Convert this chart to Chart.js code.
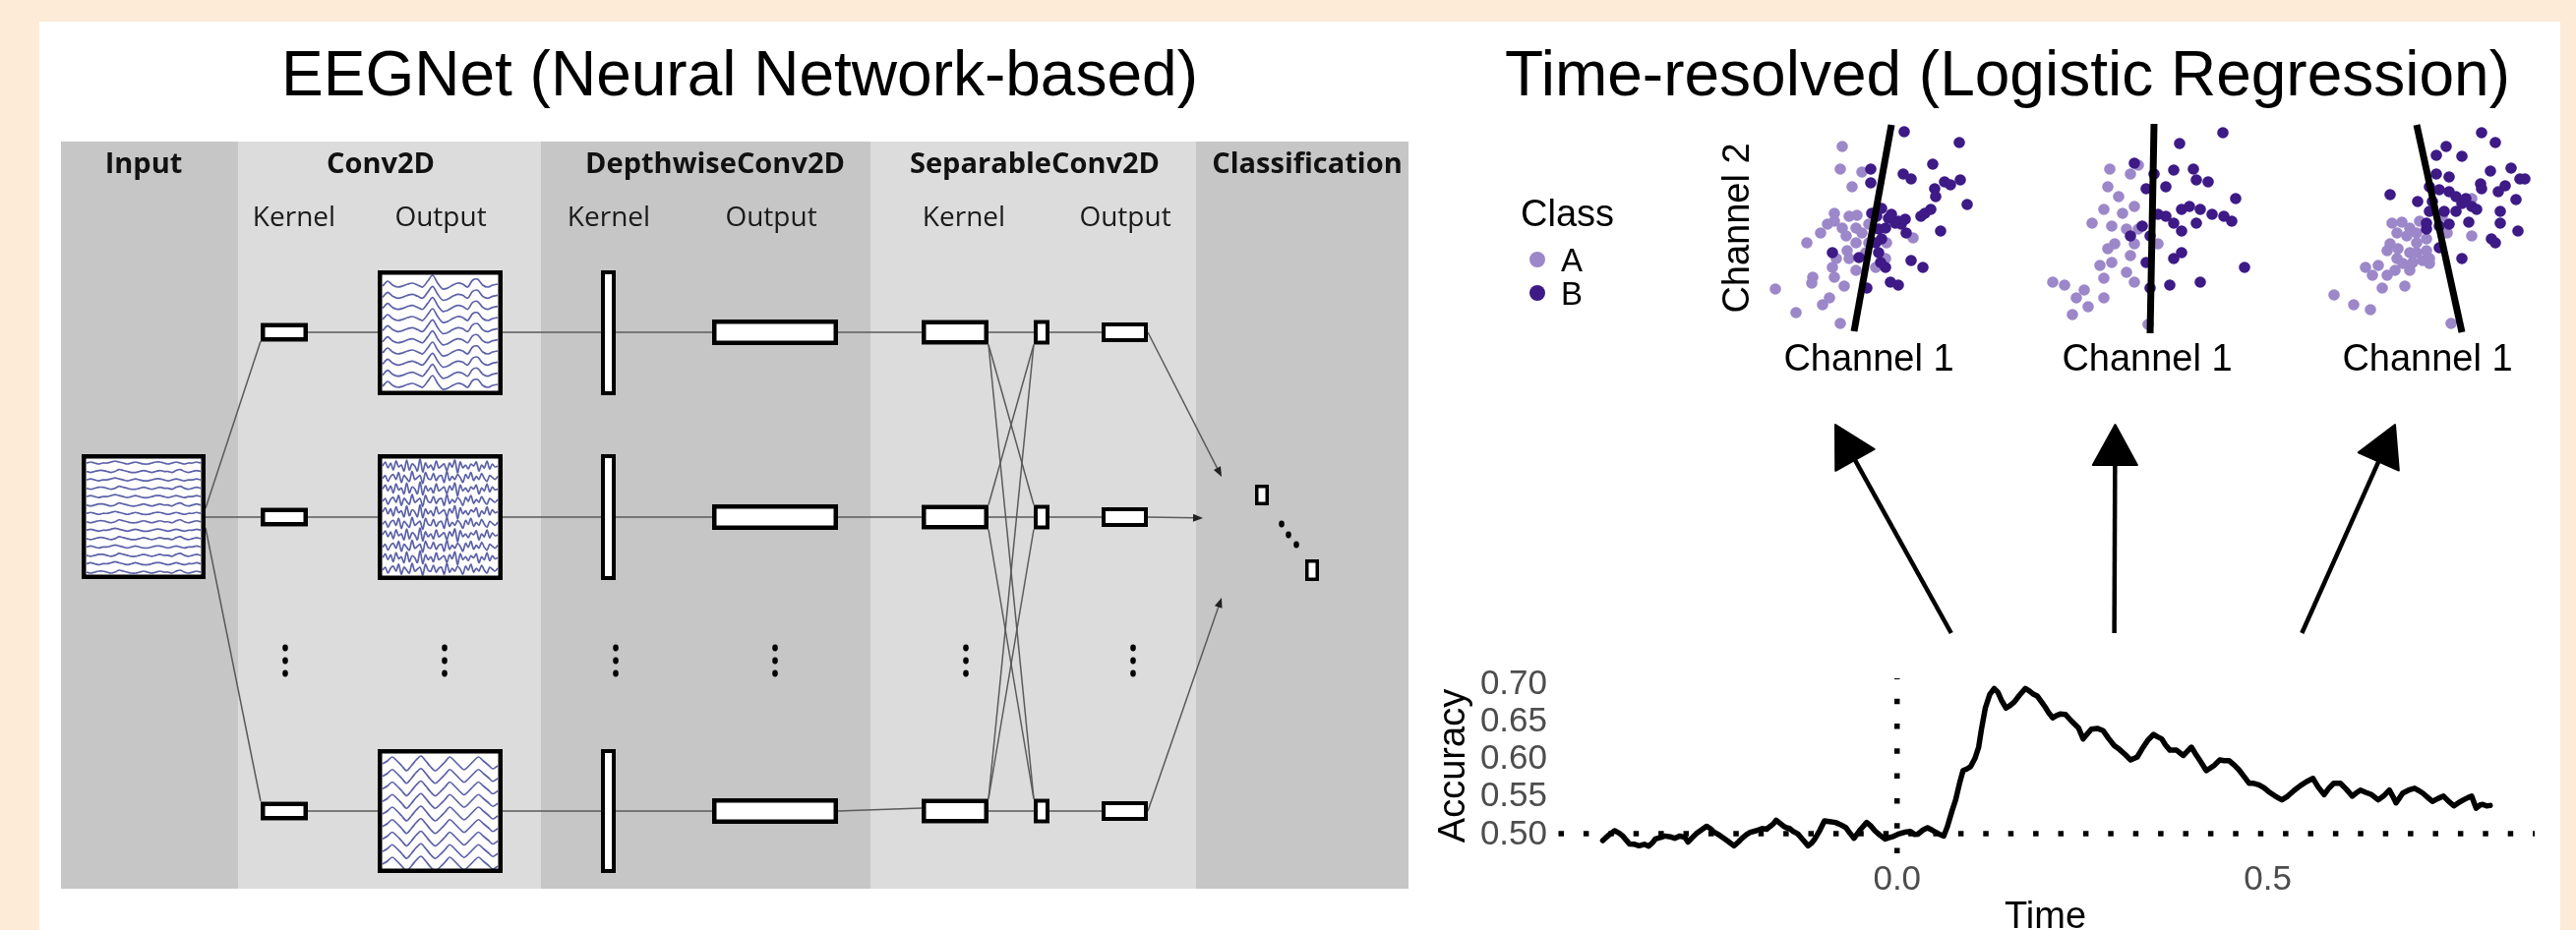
<!DOCTYPE html>
<html>
<head>
<meta charset="utf-8">
<script src="https://cdn.jsdelivr.net/npm/chart.js@4.4.1/dist/chart.umd.min.js"></script>
<style>
  html, body { margin: 0; padding: 0; }
  body { width: 2619px; height: 946px; background: #fdebd8; position: relative; overflow: hidden;
         font-family: "Liberation Sans", Arial, sans-serif; }
  #sheet { position: absolute; left: 40px; top: 22px; width: 2563px; height: 924px; background: #fff; }
  .title { position: absolute; font-size: 64px; line-height: 64px; white-space: nowrap; color: #000;
           transform: translateX(-50%); }
  canvas { position: absolute; }
</style>
</head>
<body>
<div id="sheet"></div>
<div class="title" style="left:752px; top:43px">EEGNet (Neural Network-based)</div>
<div class="title" style="left:2041px; top:43px">Time-resolved (Logistic Regression)</div>

<canvas id="net" width="1370" height="760" style="left:62px; top:144px"></canvas>
<canvas id="sc1" width="480" height="280" style="left:1530px; top:115px"></canvas>
<canvas id="sc2" width="220" height="280" style="left:2073px; top:115px"></canvas>
<canvas id="sc3" width="220" height="280" style="left:2358px; top:115px"></canvas>
<canvas id="acc" width="1163" height="546" style="left:1440px; top:400px"></canvas>

<script>
// ---------- time-resolved decoding accuracy ----------
const timeS = [
  -0.397,-0.388,-0.381,-0.375,-0.370,-0.361,-0.354,-0.348,-0.341,-0.335,-0.330,-0.326,-0.319,-0.313,
  -0.306,-0.300,-0.293,-0.286,-0.282,-0.276,-0.271,-0.264,-0.257,-0.252,-0.248,-0.241,-0.235,-0.228,
  -0.220,-0.214,-0.209,-0.203,-0.198,-0.190,-0.182,-0.176,-0.171,-0.167,-0.163,-0.158,-0.153,-0.149,
  -0.145,-0.140,-0.134,-0.127,-0.120,-0.115,-0.111,-0.104,-0.098,-0.091,-0.083,-0.076,-0.069,-0.063,
  -0.058,-0.050,-0.041,-0.035,-0.030,-0.023,-0.016,-0.010,-0.005,0.003,0.010,0.018,0.024,0.028,
  0.035,0.041,0.047,0.052,0.058,0.063,0.068,0.074,0.079,0.084,0.089,0.094,0.099,0.105,0.110,0.114,
  0.119,0.125,0.131,0.136,0.141,0.147,0.152,0.158,0.165,0.173,0.178,0.183,0.189,0.195,0.200,0.205,
  0.210,0.215,0.220,0.227,0.235,0.2445,0.251,0.256,0.262,0.270,0.278,0.285,0.293,0.300,0.308,0.315,
  0.324,0.330,0.338,0.346,0.351,0.357,0.362,0.368,0.377,0.386,0.391,0.397,0.402,0.408,0.417,0.422,
  0.428,0.435,0.441,0.448,0.455,0.461,0.468,0.475,0.481,0.488,0.495,0.501,0.510,0.519,0.527,0.536,
  0.544,0.552,0.561,0.568,0.576,0.582,0.589,0.598,0.606,0.614,0.619,0.625,0.632,0.640,0.649,0.656,
  0.664,0.669,0.673,0.678,0.682,0.690,0.698,0.704,0.709,0.716,0.722,0.730,0.737,0.744,0.751,0.757,
  0.764,0.770,0.775,0.778,0.781,0.786,0.790,0.795,0.800
];
const accuracy = [
  0.491,0.499,0.504,0.501,0.497,0.4865,0.486,0.484,0.486,0.4834,0.488,0.493,0.495,0.497,
  0.496,0.494,0.497,0.495,0.489,0.495,0.500,0.505,0.510,0.507,0.503,0.499,0.495,0.490,
  0.484,0.489,0.494,0.499,0.502,0.504,0.507,0.506,0.510,0.513,0.518,0.514,0.510,0.508,
  0.507,0.503,0.500,0.492,0.484,0.488,0.493,0.505,0.517,0.516,0.515,0.512,0.508,0.500,
  0.494,0.505,0.515,0.510,0.504,0.498,0.493,0.495,0.4965,0.500,0.502,0.503,0.499,0.4995,
  0.505,0.508,0.505,0.502,0.499,0.497,0.510,0.530,0.545,0.566,0.584,0.586,0.589,0.600,0.615,0.640,
  0.667,0.685,0.693,0.688,0.677,0.667,0.670,0.675,0.684,0.693,0.690,0.686,0.683,0.675,0.668,0.660,
  0.654,0.657,0.659,0.6586,0.650,0.641,0.626,0.632,0.639,0.640,0.637,0.627,0.617,0.612,0.605,0.598,
  0.602,0.612,0.624,0.632,0.629,0.626,0.618,0.611,0.611,0.604,0.609,0.615,0.607,0.598,0.584,0.587,
  0.591,0.598,0.597,0.597,0.591,0.585,0.576,0.567,0.567,0.565,0.561,0.556,0.550,0.545,0.550,0.558,
  0.564,0.569,0.5735,0.562,0.552,0.560,0.567,0.567,0.559,0.550,0.554,0.558,0.555,0.552,0.545,0.550,
  0.558,0.549,0.541,0.548,0.554,0.558,0.5605,0.557,0.554,0.548,0.543,0.547,0.550,0.543,0.537,0.541,
  0.545,0.548,0.550,0.542,0.534,0.538,0.539,0.537,0.5375
];
const timeRange = [-0.46, 0.86];
const accRange = [0.474, 0.7065];
const yTickValues = [0.50, 0.55, 0.60, 0.65, 0.70];
const xTickValues = [0.0, 0.5];
const chanceLevel = 0.5;
const stimulusOnset = 0.0;
const snapshotTimes = [0.073, 0.293, 0.546];

// ---------- single-time-point classifier snapshots (Channel 1, Channel 2) ----------
const classNames = ['A', 'B'];
const classColors = ['#9c87c9', '#3d1a86'];
const snap1A = [[73,191],[71,168],[93,165],[83,150],[65,123],[65,115],[80,120],[88,121],[51,103],[37,93],
  [77,100],[93,103],[87,93],[78,85],[63,68],[43,58],[42,52],[65,58],[75,49],[5,46],[26,22],[53,30],[60,37],
  [71,11],[100,93],[118,93],[145,98],[107,68],[87,65],[67,77],[80,77],[97,83],[73,108],[100,112],[58,112],
  [117,77],[87,108]];
const snap1B = [[136,206],[192,195],[165,173],[135,163],[143,158],[102,168],[102,154],[167,148],[177,155],
  [193,157],[168,140],[200,132],[163,127],[153,120],[157,123],[113,128],[103,123],[120,118],[130,115],
  [133,112],[138,103],[117,108],[173,105],[113,97],[107,93],[63,83],[90,78],[112,73],[117,68],[143,75],
  [155,68],[122,53],[130,50],[98,47],[110,107],[127,113],[123,122],[137,117],[108,120],[110,83],[183,152]];
const snap2A = [[62,168],[60,150],[91,172],[83,163],[87,130],[75,123],[44,113],[64,110],[79,107],[67,92],
  [60,87],[87,92],[83,80],[64,73],[52,70],[79,63],[56,57],[87,53],[4,53],[16,50],[36,45],[28,37],[56,37],
  [40,28],[24,20],[101,10],[111,92],[71,140],[56,127],[91,107]];
const snap2B = [[177,205],[133,194],[87,174],[107,163],[127,167],[147,168],[150,157],[162,155],[99,148],
  [119,150],[190,138],[143,130],[154,127],[111,122],[127,113],[150,113],[95,110],[166,122],[186,115],
  [83,100],[103,100],[135,105],[99,73],[127,77],[135,83],[199,68],[154,53],[123,50],[103,47],[178,120],
  [135,127],[119,120]];
const snap3A = [[64,113],[74,114],[82,108],[92,115],[69,103],[79,100],[89,103],[99,97],[59,85],[70,87],
  [82,83],[89,83],[99,85],[102,77],[69,77],[75,72],[85,73],[95,75],[102,72],[50,70],[37,68],[44,60],
  [59,60],[67,65],[82,65],[54,47],[77,49],[5,40],[25,30],[42,25],[124,11],[145,100],[145,138],[120,103],
  [89,93],[62,92],[115,120]];
const snap3B = [[155,205],[169,195],[119,191],[109,182],[135,181],[185,169],[164,166],[109,163],[122,160],
  [194,158],[199,158],[154,153],[155,148],[179,151],[172,145],[62,142],[90,135],[102,150],[112,147],
  [122,145],[129,140],[139,138],[145,130],[150,127],[102,125],[117,125],[129,125],[190,137],[174,125],
  [142,114],[174,113],[192,105],[99,113],[112,110],[122,112],[165,97],[169,93],[112,88],[135,77],
  [99,107],[105,135],[135,133]];
const boundary1 = [[123,213],[85,3]];
const boundary2 = [[107,214],[103,1]];
const boundary3 = [[89,213],[135,2]];

// ---------- EEGNet schematic ----------
const layerNames = ['Input', 'Conv2D', 'DepthwiseConv2D', 'SeparableConv2D', 'Classification'];
const subLabels = ['Kernel', 'Output'];
// small EEG traces shown inside the feature-map boxes (pixel offsets per sample)
const inputWaveA = [0,-1,0,1,0,0,-1,-2,-1,0,1,0,-1,0,1,1,0,-1,-1,0,1,0,-1,0,1,0,0,-1,0];
const inputWaveB = [0,1,0,-1,-1,0,1,0,-2,-1,0,1,1,0,-1,0,1,0,-1,0,0,1,-1,-2,0,1,0,-1,0];
const convWave1 = [2,-3,1,3,2,0,-1,1,3,-3,-9,-1,5,4,1,-1,0,3,-4,-5,1,3,1,0];
const convWave2A = [0,-4,2,-3,4,-5,1,-1,5,-6,4,-2,0,5,-7,6,-3,2,-1,4,-5,2,0,-2,5,-3,1,-6,7,-4,2,-1,3,-2,0,-4,5,-1,2,-5,3,-2,1,0];
const convWave2B = [1,-2,4,-1,-3,2,-5,5,-2,1,4,-6,2,0,-2,6,-5,1,2,-4,3,-1,-2,5,-6,3,-1,2,-3,0,5,-3,1,-5,3,-1,2,-4,1,4,-2,0,2,-1];
const convWave3 = [0,-3,-7,-3,2,7,2,-4,-8,-3,3,7,3,-2,-7,-3,2,6,2,-3,-7,-3,1,5,2];

// ---------------- schematic geometry ----------------
const FONT = '"Liberation Sans", Arial, sans-serif';
const bandTop = 144, bandBottom = 904;
const bands = [[62,242,'#c6c6c6'],[242,550,'#dcdcdc'],[550,885,'#c6c6c6'],[885,1216,'#dcdcdc'],[1216,1432,'#c6c6c6']];
const headerX = [146, 387, 727, 1052, 1329];
const subX = [[299,'Kernel'],[448,'Output'],[619,'Kernel'],[784,'Output'],[980,'Kernel'],[1144,'Output']];
const rowY = [338, 526, 825];
const bigBox = [[275,402],[462,590],[762,888]];
const inputBox = [83, 209, 462, 589];

function boxesFor(r) {
  const yc = rowY[r];
  return {
    convK: [265, 313, yc - 9.5, yc + 9.5],
    convO: [384, 511, bigBox[r][0], bigBox[r][1]],
    dwK:   [611, 626, bigBox[r][0], bigBox[r][1]],
    dwO:   [724, 852, yc - 13, yc + 13],
    sepK:  [937, 1005, yc - 12.5, yc + 12.5],
    sepS:  [1051, 1067, yc - 12.5, yc + 12.5],
    sepO:  [1120, 1167, yc - 10, yc + 10]
  };
}
const rows = [0, 1, 2].map(boxesFor);
const clsBoxes = [[1276,1290,493,514],[1327,1341,569,591]];
const clsTips = [[1242,485],[1223,527],[1242,608]];

function traceSets(waves, x0, x1, yTop, yBot, n) {
  const sets = [];
  for (let i = 0; i < n; i++) {
    const base = yTop + (yBot - yTop) * i / (n - 1);
    const w = waves[i % waves.length];
    sets.push({
      data: w.map((v, k) => ({ x: x0 + (x1 - x0) * k / (w.length - 1), y: base + v })),
      showLine: true, borderColor: '#5c61a8', borderWidth: 1.7, pointRadius: 0, tension: 0.3
    });
  }
  return sets;
}
const traceData = [].concat(
  traceSets([inputWaveA, inputWaveB], 88, 204, 471, 582, 14),
  traceSets([convWave1], 389, 506, 289, 391, 10),
  traceSets([convWave2A, convWave2B], 389, 506, 474, 579, 10),
  traceSets([convWave3], 389, 506, 777, 879, 9)
);

const netPlugin = {
  id: 'netSchematic',
  beforeDatasetsDraw(chart) {
    const { ctx, scales: { x, y } } = chart;
    const X = v => x.getPixelForValue(v), Y = v => y.getPixelForValue(v);
    ctx.save();
    bands.forEach(b => { ctx.fillStyle = b[2]; ctx.fillRect(X(b[0]), Y(bandTop), X(b[1]) - X(b[0]), Y(bandBottom) - Y(bandTop)); });

    ctx.strokeStyle = '#5a5a5a'; ctx.lineWidth = 1.5;
    const seg = (a, b, c, d) => { ctx.beginPath(); ctx.moveTo(X(a), Y(b)); ctx.lineTo(X(c), Y(d)); ctx.stroke(); };
    // input -> conv kernels
    seg(209, 517, 265, 347); seg(209, 526, 265, 526); seg(209, 537, 265, 815);
    rows.forEach((b, r) => {
      const yc = rowY[r];
      seg(313, yc, 384, yc);
      seg(511, yc, 724, yc);
      seg(852, yc, 937, r === 2 ? 822 : yc);
      seg(1067, yc, 1120, yc);
    });
    // separable: every depthwise map feeds every pointwise unit
    rows.forEach((bi, i) => {
      rows.forEach((bj, j) => {
        const ys = j > i ? bi.sepK[3] : j < i ? bi.sepK[2] : rowY[i];
        const ye = j > i ? bj.sepS[2] : j < i ? bj.sepS[3] : rowY[j];
        seg(1005, ys, 1051, ye);
      });
    });
    // outputs -> classification
    rows.forEach((b, r) => {
      const [tx, ty] = clsTips[r];
      const sx = 1167, sy = rowY[r];
      const ang = Math.atan2(ty - sy, tx - sx);
      seg(sx, sy, tx - 8 * Math.cos(ang), ty - 8 * Math.sin(ang));
      ctx.fillStyle = '#222';
      ctx.beginPath();
      ctx.moveTo(X(tx), Y(ty));
      ctx.lineTo(X(tx - 10 * Math.cos(ang) + 4 * Math.sin(ang)), Y(ty - 10 * Math.sin(ang) - 4 * Math.cos(ang)));
      ctx.lineTo(X(tx - 10 * Math.cos(ang) - 4 * Math.sin(ang)), Y(ty - 10 * Math.sin(ang) + 4 * Math.cos(ang)));
      ctx.closePath(); ctx.fill();
    });

    // white box interiors
    ctx.fillStyle = '#fff';
    const fill = bx => ctx.fillRect(X(bx[0]), Y(bx[2]), X(bx[1]) - X(bx[0]), Y(bx[3]) - Y(bx[2]));
    fill(inputBox);
    rows.forEach(b => Object.values(b).forEach(fill));
    clsBoxes.forEach(fill);
    ctx.restore();
  },
  afterDatasetsDraw(chart) {
    const { ctx, scales: { x, y } } = chart;
    const X = v => x.getPixelForValue(v), Y = v => y.getPixelForValue(v);
    ctx.save();
    ctx.strokeStyle = '#000';
    const frame = (bx, lw) => {
      ctx.lineWidth = lw;
      ctx.strokeRect(X(bx[0]) + lw / 2, Y(bx[2]) + lw / 2, X(bx[1]) - X(bx[0]) - lw, Y(bx[3]) - Y(bx[2]) - lw);
    };
    frame(inputBox, 4.5);
    rows.forEach(b => {
      frame(b.convK, 4.5); frame(b.convO, 4.5); frame(b.dwK, 4);
      frame(b.dwO, 4.5); frame(b.sepK, 4.5); frame(b.sepS, 4); frame(b.sepO, 4);
    });
    clsBoxes.forEach(bx => frame(bx, 3.5));

    // ellipsis dots between rows
    ctx.fillStyle = '#000';
    const dot = (cx, cy) => { ctx.beginPath(); ctx.ellipse(X(cx), Y(cy), 2.8, 3.4, 0, 0, Math.PI * 2); ctx.fill(); };
    [290, 452, 626, 788, 982, 1152].forEach(cx => [659, 672, 685].forEach(cy => dot(cx, cy)));
    [[1303, 533], [1310, 544], [1318, 554]].forEach(p => dot(p[0], p[1]));

    // layer headers
    ctx.fillStyle = '#111';
    ctx.textAlign = 'center'; ctx.textBaseline = 'alphabetic';
    ctx.font = 'bold 29px "Open Sans", sans-serif';
    layerNames.forEach((t, i) => ctx.fillText(t, X(headerX[i]), Y(176)));
    ctx.fillStyle = '#1a1a1a';
    ctx.font = '28px "Open Sans", sans-serif';
    subX.forEach(s => ctx.fillText(s[1], X(s[0]), Y(230)));
    ctx.restore();
  }
};

new Chart(document.getElementById('net'), {
  type: 'scatter',
  data: { datasets: traceData },
  options: {
    responsive: false, animation: false, events: [],
    layout: { autoPadding: false, padding: 0 },
    scales: {
      x: { type: 'linear', display: false, min: 62, max: 1432 },
      y: { type: 'linear', display: false, min: bandTop, max: bandBottom, reverse: true }
    },
    plugins: { legend: { display: false }, tooltip: { enabled: false } }
  },
  plugins: [netPlugin]
});

// ---------------- classifier snapshots ----------------
function snapshot(id, A, B, boundary, padLeft, withLegend) {
  const toXY = arr => arr.map(p => ({ x: p[0], y: p[1] }));
  const labels = {
    id: 'snapLabels',
    afterDraw(chart) {
      const { ctx, chartArea: ca } = chart;
      ctx.save();
      ctx.fillStyle = '#000';
      ctx.font = '38px ' + FONT;
      ctx.textAlign = 'center'; ctx.textBaseline = 'alphabetic';
      ctx.fillText('Channel 1', (ca.left + ca.right) / 2, 262);
      if (withLegend) {
        ctx.save();
        ctx.translate(248, 117);
        ctx.rotate(-Math.PI / 2);
        ctx.fillText('Channel 2', 0, 0);
        ctx.restore();
        ctx.textAlign = 'left';
        ctx.fillText('Class', 16, 115);
        ctx.font = '33px ' + FONT;
        classNames.forEach((c, i) => {
          const cy = 149 + i * 34;
          ctx.fillStyle = classColors[i];
          ctx.beginPath(); ctx.arc(33, cy, 8, 0, Math.PI * 2); ctx.fill();
          ctx.fillStyle = '#000';
          ctx.fillText(c, 57, cy + 12);
        });
      }
      ctx.restore();
    }
  };
  return new Chart(document.getElementById(id), {
    type: 'scatter',
    data: {
      datasets: [
        { data: toXY(boundary), showLine: true, borderColor: '#000', borderWidth: 7, pointRadius: 0,
          borderCapStyle: 'butt', order: 0, clip: false },
        { data: toXY(B), backgroundColor: classColors[1], pointRadius: 5.8, pointBorderWidth: 0, order: 1, clip: false },
        { data: toXY(A), backgroundColor: classColors[0], pointRadius: 5.8, pointBorderWidth: 0, order: 2, clip: false }
      ]
    },
    options: {
      responsive: false, animation: false, events: [],
      layout: { autoPadding: false, padding: { left: padLeft, right: 10, top: 10, bottom: 55 } },
      scales: {
        x: { type: 'linear', display: false, min: 0, max: 200 },
        y: { type: 'linear', display: false, min: 0, max: 215 }
      },
      plugins: { legend: { display: false }, tooltip: { enabled: false } }
    },
    plugins: [labels]
  });
}
snapshot('sc1', snap1A, snap1B, boundary1, 270, true);
snapshot('sc2', snap2A, snap2B, boundary2, 10, false);
snapshot('sc3', snap3A, snap3B, boundary3, 10, false);

// ---------------- accuracy over time ----------------
const arrowTips = [[426, 32], [710.5, 32], [995, 32]];
const accPlugin = {
  id: 'accDecor',
  afterDraw(chart) {
    const { ctx, scales: { x, y } } = chart;
    ctx.save();
    ctx.fillStyle = '#4d4d4d';
    ctx.font = '35px ' + FONT;
    ctx.textAlign = 'right'; ctx.textBaseline = 'middle';
    yTickValues.forEach(v => ctx.fillText(v.toFixed(2), x.left - 9, y.getPixelForValue(v) + 1));
    ctx.textAlign = 'center'; ctx.textBaseline = 'alphabetic';
    xTickValues.forEach(v => ctx.fillText(v.toFixed(1), x.getPixelForValue(v), y.bottom + 37));

    ctx.fillStyle = '#000';
    ctx.font = '38px ' + FONT;
    ctx.fillText('Time', (x.left + x.right) / 2, 544);
    ctx.save();
    ctx.translate(49, (y.top + y.bottom) / 2);
    ctx.rotate(-Math.PI / 2);
    ctx.fillText('Accuracy', 0, 0);
    ctx.restore();

    // arrows from the time points up to the snapshots
    ctx.strokeStyle = '#000'; ctx.lineWidth = 4.5; ctx.lineCap = 'butt';
    snapshotTimes.forEach((t, i) => {
      const sx = x.getPixelForValue(t), sy = 244;
      const [tx, ty] = arrowTips[i];
      const len = Math.hypot(tx - sx, ty - sy);
      const ux = (tx - sx) / len, uy = (ty - sy) / len;
      const hl = 41, hw = 22.5;
      const bx = tx - ux * hl, by = ty - uy * hl;
      ctx.beginPath(); ctx.moveTo(sx, sy); ctx.lineTo(bx + ux * 2, by + uy * 2); ctx.stroke();
      ctx.beginPath();
      ctx.moveTo(tx, ty);
      ctx.lineTo(bx - uy * hw, by + ux * hw);
      ctx.lineTo(bx + uy * hw, by - ux * hw);
      ctx.closePath();
      ctx.lineJoin = 'round'; ctx.lineWidth = 2; ctx.fillStyle = '#000';
      ctx.fill(); ctx.stroke();
      ctx.lineWidth = 4.5;
    });
    ctx.restore();
  }
};

new Chart(document.getElementById('acc'), {
  type: 'scatter',
  data: {
    datasets: [
      { data: timeS.map((t, i) => ({ x: t, y: accuracy[i] })), showLine: true, borderColor: '#000',
        borderWidth: 5.5, pointRadius: 0, tension: 0, borderJoinStyle: 'round', borderCapStyle: 'round', order: 0 },
      { data: [{ x: timeRange[0], y: chanceLevel }, { x: timeRange[1], y: chanceLevel }], showLine: true,
        borderColor: '#000', borderWidth: 5.5, borderDash: [5.5, 19.9], borderDashOffset: -2.5, borderCapStyle: 'butt',
        pointRadius: 0, order: 1 },
      { data: [{ x: stimulusOnset, y: accRange[0] }, { x: stimulusOnset, y: accRange[1] }], showLine: true,
        borderColor: '#000', borderWidth: 5.5, borderDash: [5.5, 19.8], borderCapStyle: 'butt',
        pointRadius: 0, order: 2 }
    ]
  },
  options: {
    responsive: false, animation: false, events: [],
    layout: { autoPadding: false, padding: { left: 142, right: 26, top: 290, bottom: 78 } },
    scales: {
      x: { type: 'linear', display: false, min: timeRange[0], max: timeRange[1] },
      y: { type: 'linear', display: false, min: accRange[0], max: accRange[1] }
    },
    plugins: { legend: { display: false }, tooltip: { enabled: false } }
  },
  plugins: [accPlugin]
});
</script>
</body>
</html>
